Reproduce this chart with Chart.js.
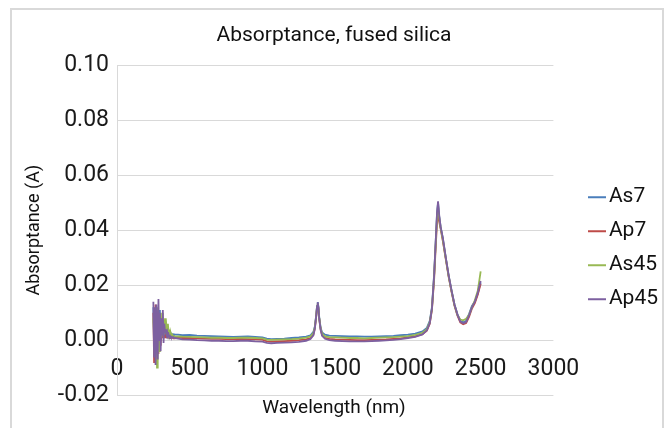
<!DOCTYPE html>
<html>
<head>
<meta charset="utf-8">
<script src="https://cdn.jsdelivr.net/npm/chart.js@4.4.0/dist/chart.umd.min.js"></script>
<style>
  body { margin: 0; background: #fff; overflow: hidden; }
  .wrap { position: relative; width: 668px; height: 428px; overflow: hidden; }
  .frame { position: absolute; left: 10px; top: 8px; width: 650px; height: 440px; border: 2px solid #d9d9d9; border-bottom: none; }
  canvas { position: absolute; left: 0; top: 0; }
</style>
</head>
<body>
<div class="wrap">
  <div class="frame"></div>
  <canvas id="absChart" width="668" height="428"></canvas>
</div>
<script>
const FONT = "Roboto, 'Liberation Sans', sans-serif";

// wavelength (nm)
const wavelengths = [
  250, 255, 260, 265, 270, 275, 280, 285, 290, 295, 300, 305, 310, 315, 320, 325,
  330, 335, 340, 345, 350, 355, 360, 365, 370, 375, 380, 385, 390, 395, 400,
  420, 450, 500, 550, 600, 650, 700, 750, 800, 850, 900, 950, 1000, 1030, 1060,
  1100, 1150, 1200, 1250, 1300, 1330, 1350, 1360, 1370, 1375, 1380, 1385, 1390,
  1400, 1410, 1430, 1460, 1500, 1550, 1600, 1650, 1700, 1750, 1800, 1850, 1900,
  1950, 2000, 2050, 2100, 2130, 2150, 2165, 2180, 2190, 2200, 2207, 2215, 2225,
  2240, 2260, 2280, 2300, 2320, 2340, 2360, 2380, 2400, 2420, 2440, 2460, 2480,
  2490, 2500
];

const seriesNames = ["As7", "Ap7", "As45", "Ap45"];
const seriesColors = ["#4a7ebb", "#be4b48", "#98b954", "#7d60a0"];

const as7 = [
  0.012, -0.004, 0.010, 0.002, -0.006, 0.009, 0.004, -0.003, 0.011, 0.005, 0.000,
  0.007, 0.003, 0.006, 0.002, 0.005, 0.004, 0.003, 0.004, 0.003, 0.003, 0.0025,
  0.003, 0.002, 0.0025, 0.002, 0.002, 0.0022, 0.002, 0.0021, 0.002,
  0.0020, 0.0018, 0.0019, 0.0017, 0.0016, 0.0015, 0.0014, 0.0013, 0.0012, 0.0013,
  0.0014, 0.0012, 0.0010, 0.0006, 0.0004, 0.0005, 0.0006, 0.0008, 0.0010, 0.0013,
  0.0018, 0.0030, 0.0050, 0.0095, 0.0125, 0.0138, 0.0120, 0.0085, 0.0045, 0.0028,
  0.0020, 0.0017, 0.0016, 0.0015, 0.0014, 0.0014, 0.0013, 0.0013, 0.0014, 0.0015,
  0.0016, 0.0018, 0.0020, 0.0024, 0.0032, 0.0045, 0.0070, 0.0120, 0.0240, 0.0350,
  0.0460, 0.0500, 0.0450, 0.0410, 0.0370, 0.0300, 0.0235, 0.0180, 0.0130, 0.0095,
  0.0070, 0.0065, 0.0070, 0.0095, 0.0125, 0.0140, 0.0170, 0.0190, 0.0210
];

const ap7 = [
  0.010, -0.008, 0.006, 0.013, -0.009, 0.004, 0.008, -0.005, 0.006, 0.002, -0.002,
  0.004, 0.001, 0.003, 0.0015, 0.002, 0.001, 0.0015, 0.001, 0.001, 0.0012, 0.001,
  0.0008, 0.001, 0.0009, 0.0008, 0.001, 0.0008, 0.0007, 0.0008, 0.0007,
  0.0010, 0.0008, 0.0008, 0.0007, 0.0006, 0.0005, 0.0005, 0.0004, 0.0004, 0.0005,
  0.0004, 0.0003, 0.0002, -0.0004, -0.0005, -0.0004, -0.0003, -0.0002, 0.0000, 0.0003,
  0.0008, 0.0020, 0.0042, 0.0088, 0.0118, 0.0130, 0.0112, 0.0078, 0.0038, 0.0018,
  0.0008, 0.0005, 0.0003, 0.0002, 0.0001, 0.0000, 0.0000, 0.0001, 0.0002, 0.0003,
  0.0005, 0.0007, 0.0010, 0.0014, 0.0022, 0.0035, 0.0060, 0.0110, 0.0220, 0.0330,
  0.0430, 0.0455, 0.0430, 0.0405, 0.0360, 0.0295, 0.0230, 0.0175, 0.0125, 0.0090,
  0.0065, 0.0058, 0.0062, 0.0085, 0.0115, 0.0135, 0.0165, 0.0185, 0.0205
];

const as45 = [
  0.008, 0.002, -0.006, 0.010, 0.005, -0.010, 0.012, 0.003, -0.004, 0.009, 0.006,
  0.001, 0.010, 0.004, 0.007, 0.002, 0.008, 0.003, 0.005, 0.002, 0.006, 0.002,
  0.003, 0.002, 0.0025, 0.0015, 0.002, 0.0015, 0.0014, 0.0015, 0.0013,
  0.0014, 0.0013, 0.0012, 0.0011, 0.0010, 0.0009, 0.0009, 0.0008, 0.0008, 0.0009,
  0.0009, 0.0008, 0.0007, 0.0002, 0.0001, 0.0002, 0.0003, 0.0004, 0.0006, 0.0009,
  0.0014, 0.0026, 0.0047, 0.0092, 0.0122, 0.0134, 0.0116, 0.0082, 0.0042, 0.0024,
  0.0014, 0.0011, 0.0010, 0.0009, 0.0008, 0.0008, 0.0007, 0.0008, 0.0009, 0.0010,
  0.0011, 0.0013, 0.0015, 0.0019, 0.0027, 0.0040, 0.0066, 0.0115, 0.0232, 0.0342,
  0.0450, 0.0490, 0.0445, 0.0408, 0.0365, 0.0298, 0.0232, 0.0178, 0.0128, 0.0092,
  0.0075, 0.0072, 0.0078, 0.0092, 0.0120, 0.0145, 0.0180, 0.0215, 0.0250
];

const ap45 = [
  0.014, -0.006, 0.012, -0.009, 0.013, 0.003, -0.007, 0.015, 0.000, 0.010, -0.004,
  0.008, 0.002, 0.011, -0.001, 0.006, 0.003, 0.004, 0.002, 0.003, 0.0015, 0.002,
  0.001, 0.0015, 0.001, 0.0012, 0.001, 0.0009, 0.001, 0.0008, 0.0008,
  0.0006, 0.0003, 0.0002, 0.0000, -0.0001, -0.0002, -0.0002, -0.0003, -0.0003, -0.0002,
  -0.0002, -0.0004, -0.0005, -0.0010, -0.0011, -0.0010, -0.0009, -0.0008, -0.0006, -0.0002,
  0.0004, 0.0018, 0.0042, 0.0090, 0.0122, 0.0138, 0.0118, 0.0080, 0.0038, 0.0016,
  0.0005, 0.0000, -0.0002, -0.0003, -0.0004, -0.0004, -0.0004, -0.0003, -0.0002, -0.0001,
  0.0001, 0.0004, 0.0008, 0.0012, 0.0021, 0.0036, 0.0062, 0.0115, 0.0235, 0.0350,
  0.0465, 0.0505, 0.0455, 0.0412, 0.0372, 0.0302, 0.0236, 0.0180, 0.0130, 0.0094,
  0.0068, 0.0062, 0.0066, 0.0090, 0.0120, 0.0140, 0.0172, 0.0195, 0.0215
];

const yTicks = { min: -0.02, max: 0.10, step: 0.02 };
const xTicks = { min: 0, max: 3000, step: 500 };

// short line used as the legend marker, drawn a bit wider than the legend box
function legendMark(color) {
  const c = document.createElement("canvas");
  c.width = 18;
  c.height = 4;
  const g = c.getContext("2d");
  g.fillStyle = color;
  g.fillRect(0, 1, 18, 2);
  return c;
}

const allSeries = [as7, ap7, as45, ap45];

const datasets = allSeries.map((vals, i) => ({
  label: seriesNames[i],
  data: wavelengths.map((w, j) => ({ x: w, y: vals[j] })),
  borderColor: seriesColors[i],
  backgroundColor: seriesColors[i],
  borderWidth: 1.8,
  pointRadius: 0,
  pointStyle: legendMark(seriesColors[i]),
  tension: 0,
  order: allSeries.length - 1 - i // last series on top, like the original
}));

const ctx = document.getElementById("absChart").getContext("2d");

new Chart(ctx, {
  type: "line",
  data: { datasets },
  options: {
    responsive: false,
    animation: false,
    layout: { padding: { top: 8, right: 0, bottom: 0, left: 0 } },
    plugins: {
      title: {
        display: true,
        text: "Absorptance, fused silica",
        color: "#111",
        font: { family: FONT, size: 21, weight: "normal" },
        padding: { top: 15, bottom: 17 }
      },
      subtitle: {
        display: true,
        position: "bottom",
        text: "Wavelength (nm)",
        color: "#111",
        font: { family: FONT, size: 19, weight: "normal" },
        padding: { top: 2, bottom: 8 }
      },
      legend: {
        position: "right",
        fullSize: false,
        align: "center",
        title: { display: true, text: " ", font: { size: 10 }, padding: 12 },
        labels: {
          usePointStyle: true,
          pointStyleWidth: 2,
          padding: 13,
          color: "#111",
          font: { family: FONT, size: 21 },
          sort: (a, b) => a.datasetIndex - b.datasetIndex
        }
      },
      tooltip: { enabled: false }
    },
    scales: {
      x: {
        type: "linear",
        position: { y: 0 },
        min: xTicks.min,
        max: xTicks.max,
        grid: { display: false },
        border: { display: false },
        ticks: {
          stepSize: xTicks.step,
          padding: 7,
          maxRotation: 0,
          color: "#1a1a1a",
          font: { family: FONT, size: 23 },
          callback: v => String(v)
        }
      },
      y: {
        position: "left",
        min: yTicks.min,
        max: yTicks.max,
        grid: { color: "#d9d9d9", lineWidth: 1, drawTicks: false },
        border: { display: true, color: "#d9d9d9", width: 1 },
        ticks: {
          stepSize: yTicks.step,
          padding: 8,
          color: "#1a1a1a",
          font: { family: FONT, size: 23 },
          callback: v => (Math.abs(v) < 1e-9 ? 0 : v).toFixed(2)
        },
        title: {
          display: true,
          text: "Absorptance (A)",
          color: "#111",
          font: { family: FONT, size: 18 },
          padding: { top: 24, bottom: 0 }
        },
        afterFit: s => { s.width = 117; }
      },
      // empty axis: keeps a gap between the plot and the legend
      gap: {
        type: "linear",
        axis: "y",
        position: "right",
        grid: { display: false },
        border: { display: false },
        ticks: { display: false },
        afterFit: s => { s.width = 30; }
      }
    }
  }
});
</script>
</body>
</html>
